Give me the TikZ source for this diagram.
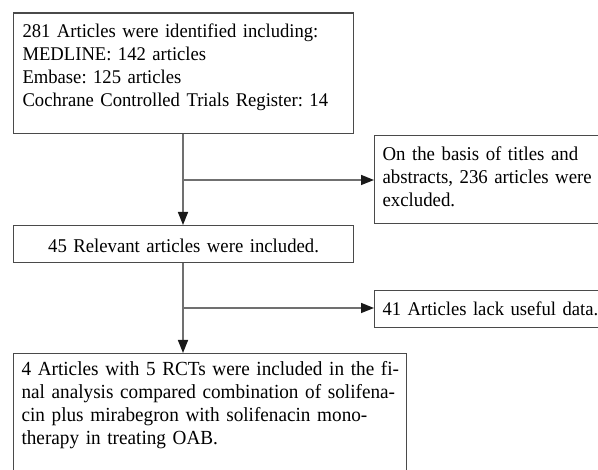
\documentclass[tikz,border=0pt]{standalone}
\usepackage{fontspec}
\setmainfont[WordSpace=0.85,FakeStretch=0.96]{Liberation Serif}
\usetikzlibrary{arrows.meta}
\definecolor{boxline}{HTML}{4A4A4A}
\definecolor{connline}{HTML}{707070}
\frenchspacing
\begin{document}
\begin{tikzpicture}[x=1pt,y=1pt,
  box/.style={draw=boxline, line width=1.1pt, anchor=north west, inner ysep=0pt, align=left},
  fs/.style={font=\fontsize{#1}{23}\selectfont\frenchspacing},
  conn/.style={draw=connline, line width=1.5pt,
    -{Triangle[length=13pt,width=10pt,color=black!90]}}]
\useasboundingbox (0,0) rectangle (598,470);
% boxes (positions from top-left corner, y measured upward)
\node[box, fs=19.4, inner xsep=9pt, text width=322pt, text height=24.7pt, text depth=96pt]
  (b1) at (13,457.5)
  {\mbox{281 Articles were identified including:}\\
   \mbox{MEDLINE: 142 articles}\\
   \mbox{Embase: 125 articles}\\
   \mbox{Cochrane Controlled Trials Register: 14}};
\node[box, fs=19.6, inner xsep=8pt, text width=208pt, text height=25pt, text depth=63pt]
  (b3) at (374,335)
  {\mbox{On the basis of titles and}\\
   \mbox{abstracts, 236 articles were}\\
   \mbox{excluded.}};
\node[box, fs=19.5, align=center, inner xsep=8pt, text width=324pt, text height=26.7pt, text depth=10.3pt]
  (b2) at (13,245)
  {\mbox{45 Relevant articles were included.}};
\node[box, fs=19.4, inner xsep=8pt, text width=208pt, text height=25pt, text depth=12pt]
  (b5) at (374,180)
  {\mbox{41 Articles lack useful data.}};
\node[box, fs=20.0, inner xsep=8pt, text width=377pt, text height=22pt, text depth=96pt]
  (b4) at (13,117)
  {\mbox{4 Articles with 5 RCTs were included in the fi-}\\
   \mbox{nal analysis compared combination of solifena-}\\
   \mbox{cin plus mirabegron with solifenacin mono-}\\
   \mbox{therapy in treating OAB.}};
% junctions
\coordinate (j1) at (183,290);
\coordinate (j2) at (183,162);
% connectors
\draw[conn] (b1.south -| j1) -- (b2.north -| j1);
\draw[conn] (j1) -- (j1 -| b3.west);
\draw[conn] (b2.south -| j1) -- (b4.north -| j1);
\draw[conn] (j2) -- (j2 -| b5.west);
\end{tikzpicture}
\end{document}
